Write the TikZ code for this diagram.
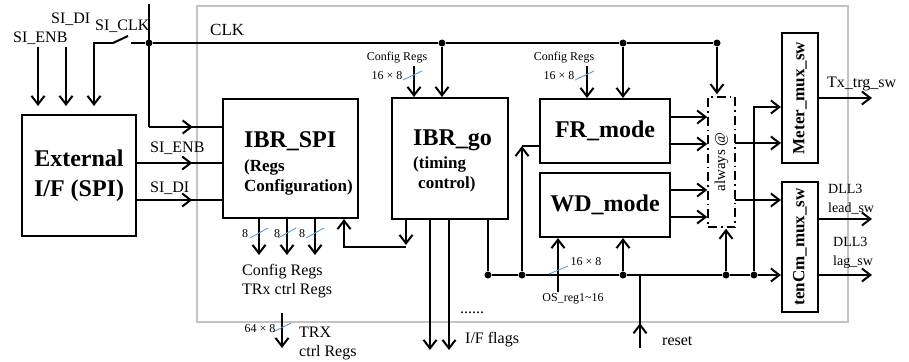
\documentclass[tikz,border=0pt]{standalone}
\usepackage{fontspec}
\setmainfont{Liberation Serif}
\usepackage{graphicx}
\usetikzlibrary{arrows.meta, positioning, calc, decorations.markings}
\definecolor{framegray}{RGB}{196,196,196}
\definecolor{buscolor}{RGB}{90,155,215}
\tikzset{
	block/.style={draw=black, line width=2pt, shape=rectangle, inner sep=0pt, font=\fontsize{24}{30}\selectfont\bfseries},
	mux/.style={draw=black, line width=2pt, shape=rectangle, inner sep=0pt, minimum width=36pt, minimum height=130pt, font=\fontsize{17}{20}\selectfont\bfseries},
	sensitivity/.style={draw=black, line width=1.5pt, dash pattern=on 9pt off 4pt on 1.5pt off 4pt, shape=rectangle, inner sep=0pt, minimum width=27pt, minimum height=130pt, font=\fontsize{15}{17}\selectfont},
	blocktext/.style={inner sep=0pt, align=left, font=\fontsize{17}{20}\selectfont\bfseries},
	sig/.style={line width=2pt, -{Straight Barb[length=8.5pt, width=13pt]}},
	wire/.style={line width=2pt},
	midarrow/.style={line width=2pt, postaction={decorate}, decoration={markings, mark=at position #1 with {\arrow{Straight Barb[length=8.5pt, width=13pt]}}}},
	junction/.style={shape=circle, fill=black, inner sep=0pt, minimum size=7pt},
	buswidth/.style={draw=buscolor, line width=0.9pt},
	annotation/.style={inner sep=0pt, font=\fontsize{16}{19}\selectfont},
	regtext/.style={inner sep=0pt, font=\fontsize{12}{14}\selectfont}
}

\begin{document}
\begin{tikzpicture}[x=1pt, y=-1pt]
	\useasboundingbox (0,0) rectangle (909,361);
	% chip frame
	\draw[framegray, line width=2pt] (197,6) rectangle (848,322);

	% blocks
	\node (ext) [block, minimum width=114pt, minimum height=121pt, align=center] at (79,175.5) {External\\I/F (SPI)};
	\node (spi) [block, minimum width=135pt, minimum height=119pt] at (290.5,158.5) {};
	\node (spitext) [blocktext, anchor=north west] at ($(spi.north west)+(22,33)$) {{\fontsize{24}{24}\selectfont IBR\_SPI}\\[4pt](Regs\\Configuration)};
	\node (go) [block, minimum width=116pt, minimum height=121pt] at (450,158.5) {};
	\node (gotext) [blocktext, anchor=north west] at ($(go.north west)+(22,33)$) {{\fontsize{24}{24}\selectfont IBR\_go}\\[3pt](timing\\\hspace{5pt}control)};
	\node (fr) [block, minimum width=130pt, minimum height=64pt] at (605,131) {FR\_mode};
	\node (wd) [block, minimum width=130pt, minimum height=64pt] at (605,205) {WD\_mode};
	\node (alw) [sensitivity] at (721.5,162) {\rotatebox{90}{always @}};
	\node (meter) [mux] at (800,98) {\rotatebox{90}{Meter\_mux\_sw}};
	\node (tenc) [mux] at (800,247) {\rotatebox{90}{tenCm\_mux\_sw}};

	% serial inputs
	\coordinate (enbtop) at (38,47);
	\coordinate (ditop) at (66,47);
	\coordinate (clkbend) at (94,43);
	\coordinate (clksw) at (113,43);
	\coordinate (clkgap) at (131,43);
	\node (enblabel) [annotation, anchor=base west] at (13,43) {SI\_ENB};
	\node (dilabel) [annotation, anchor=base west] at (51,24) {SI\_DI};
	\node (clklabel) [annotation, anchor=base west] at (95,31) {SI\_CLK};
	\draw[sig, shorten >=8pt] (enbtop) -- (enbtop |- ext.north);
	\draw[sig, shorten >=8pt] (ditop) -- (ditop |- ext.north);
	\draw[sig, shorten >=8pt] (clksw) -- (clkbend) -- (clkbend |- ext.north);
	\draw[wire] (clksw) -- ++(15,-7); % switch

	% CLK line
	\node (jspi) [junction] at (149,43) {};
	\node (jgo) [junction] at (442,43) {};
	\node (jfr) [junction] at (623,43) {};
	\node (jal) [junction] at (717,43) {};
	\coordinate (clktop) at (149,4);
	\coordinate (clkspi) at (149,127);
	\node (clkname) [annotation, font=\fontsize{17}{20}\selectfont, anchor=base west] at (210,36) {CLK};
	\draw[wire] (clkgap) -- (jspi) -- (jgo) -- (jfr) -- (jal);
	\draw[wire] (clktop) -- (clkspi);
	\draw[midarrow=0.6] (clkspi) -- (clkspi -| spi.west);
	\draw[sig] (jgo) -- (jgo |- go.north);
	\draw[sig] (jfr) -- (jfr |- fr.north);
	\draw[sig, shorten >=2pt] (jal) -- (jal |- alw.north);

	% SPI to IBR_SPI
	\coordinate (enbside) at (136,163);
	\coordinate (diside) at (136,200);
	\node (enbside label) [annotation, anchor=base west] at (150,152) {SI\_ENB};
	\node (diside label) [annotation, anchor=base west] at (150,192) {SI\_DI};
	\draw[midarrow=0.655] (enbside) -- (enbside -| spi.west);
	\draw[midarrow=0.655] (diside) -- (diside -| spi.west);

	% config regs into IBR_go and FR_mode
	\coordinate (cfggo) at (414,66);
	\coordinate (cfgfr) at (587,66);
	\node (cfggotext) [regtext, anchor=base] at (397,60) {Config Regs};
	\node (cfggowidth) [regtext, anchor=base] at (387,79) {16 × 8};
	\node (cfgfrtext) [regtext, anchor=base] at (564,60) {Config Regs};
	\node (cfgfrwidth) [regtext, anchor=base] at (559,79) {16 × 8};
	\draw[sig] (cfggo) -- (cfggo |- go.north);
	\draw[sig] (cfgfr) -- (cfgfr |- fr.north);
	\draw[buswidth] ($(cfggo)+(-11,14)$) -- ++(19,-9);
	\draw[buswidth] ($(cfgfr)+(-12,14)$) -- ++(19,-9);

	% IBR_SPI outputs
	\coordinate (outa) at (259,255);
	\coordinate (outb) at (287,255);
	\coordinate (outc) at (315,255);
	\draw[sig] (outa |- spi.south) -- (outa);
	\draw[sig] (outb |- spi.south) -- (outb);
	\draw[sig] (outc |- spi.south) -- (outc);
	\draw[buswidth] ($(outa)+(-9,-17)$) -- ++(18,-10);
	\draw[buswidth] ($(outb)+(-9,-17)$) -- ++(18,-10);
	\draw[buswidth] ($(outc)+(-9,-17)$) -- ++(18,-10);
	\node (outalabel) [regtext, anchor=base] at (245,237) {8};
	\node (outblabel) [regtext, anchor=base] at (277,237) {8};
	\node (outclabel) [regtext, anchor=base] at (302,237) {8};
	\node (outtext) [annotation, align=left, anchor=north west] at (242,264) {Config Regs\\TRx ctrl Regs};
	\coordinate (trxtop) at (282,313);
	\coordinate (trxend) at (282,348);
	\draw[sig] (trxtop) -- (trxend);
	\draw[buswidth] (273,332) -- (291,323);
	\node (trxwidth) [regtext, anchor=base] at (260,332) {64 × 8};
	\node (trxtext) [annotation, align=left, anchor=north west] at (299,327) {TRX\\ctrl Regs};

	% IBR_go feedback and flags
	\coordinate (fbk) at (406,247);
	\coordinate (fbkup) at (344,247);
	\draw[sig, shorten >=2pt] (fbk |- go.south) -- (fbk);
	\draw[sig] (fbk) -- (fbkup) -- (fbkup |- spi.south);
	\coordinate (flaga) at (430,350);
	\coordinate (flagb) at (449,350);
	\draw[sig] (flaga |- go.south) -- (flaga);
	\draw[sig] (flagb |- go.south) -- (flagb);
	\node (flagdots) [annotation, anchor=base] at (472,313) {......};
	\node (flagtext) [annotation, anchor=base west] at (465,343) {I/F flags};

	% reset bus
	\node (rgo) [junction] at (488,275) {};
	\node (rfr) [junction] at (522,275) {};
	\node (rwd) [junction] at (623,275) {};
	\node (ral) [junction] at (726,275) {};
	\node (rmx) [junction] at (754,275) {};
	\coordinate (frin) at (522,146);
	\coordinate (mxbend) at (754,107);
	\coordinate (rstin) at (640,348);
	\draw[wire] (rgo |- go.south) -- (rgo);
	\draw[sig] (rgo) -- (rfr) -- (rwd) -- (ral) -- (rmx) -- (rmx -| tenc.west);
	\draw[sig] (rfr) -- (frin);
	\draw[wire] (frin) -- (frin -| fr.west);
	\draw[sig] (rwd) -- (rwd |- wd.south);
	\draw[sig, shorten >=1pt] (ral) -- (ral |- alw.south);
	\draw[sig] (rmx) -- (mxbend) -- (mxbend -| meter.west);
	\draw[midarrow=0.34] (rstin) -- (rstin |- rgo);
	\node (rsttext) [annotation, anchor=base west] at (662,345) {reset};

	% offset registers
	\coordinate (osreg) at (558,292);
	\draw[sig] (osreg) -- (osreg |- wd.south);
	\draw[buswidth] (549,274) -- (568,266);
	\node (oswidth) [regtext, anchor=base] at (586,265) {16 × 8};
	\node (ostext) [regtext, anchor=base] at (573,301) {OS\_reg1\textasciitilde16};

	% modes to always @
	\coordinate (fra) at (669,117);
	\coordinate (frb) at (669,144);
	\coordinate (wda) at (669,190);
	\coordinate (wdb) at (669,217);
	\draw[sig] (fra) -- (fra -| alw.west);
	\draw[sig] (frb) -- (frb -| alw.west);
	\draw[sig] (wda) -- (wda -| alw.west);
	\draw[sig] (wdb) -- (wdb -| alw.west);
	\coordinate (alwa) at (735,143);
	\coordinate (alwb) at (735,200);
	\draw[sig] (alwa) -- (alwa -| meter.west);
	\draw[sig] (alwb) -- (alwb -| tenc.west);

	% outputs
	\coordinate (txout) at (872,98);
	\coordinate (leadout) at (872,219);
	\coordinate (lagout) at (872,275);
	\draw[sig] (txout -| meter.east) -- (txout);
	\draw[sig] (leadout -| tenc.east) -- (leadout);
	\draw[sig] (lagout -| tenc.east) -- (lagout);
	\node (txtext) [annotation, anchor=base west] at (827,87) {Tx\_trg\_sw};
	\node (leadtext) [annotation, font=\fontsize{14}{19}\selectfont, align=left, anchor=north west] at (828,184) {DLL3\\lead\_sw};
	\node (lagtext) [annotation, font=\fontsize{14}{19}\selectfont, align=left, anchor=north west] at (833,237) {DLL3\\lag\_sw};
\end{tikzpicture}
\end{document}
